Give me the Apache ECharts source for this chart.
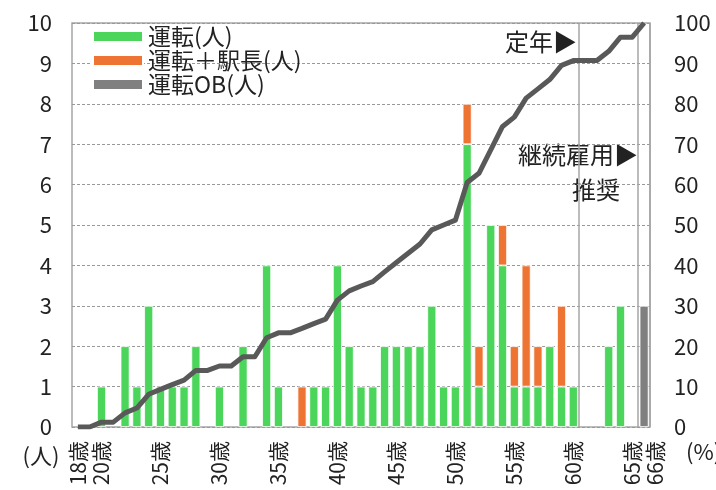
<!DOCTYPE html>
<html>
<head>
<meta charset="utf-8">
<script src="https://cdn.jsdelivr.net/npm/echarts@6/dist/echarts.min.js"></script>
<style>
  html, body { margin: 0; padding: 0; background: #fff; }
  #chart { width: 716px; height: 490px; }
</style>
</head>
<body>
<div id="chart"></div>
<script>
// 年齢（カテゴリ）
const ages = [
  '18歳','19歳','20歳','21歳','22歳','23歳','24歳','25歳','26歳','27歳',
  '28歳','29歳','30歳','31歳','32歳','33歳','34歳','35歳','36歳','37歳',
  '38歳','39歳','40歳','41歳','42歳','43歳','44歳','45歳','46歳','47歳',
  '48歳','49歳','50歳','51歳','52歳','53歳','54歳','55歳','56歳','57歳',
  '58歳','59歳','60歳','61歳','62歳','63歳','64歳','65歳','66歳'
];

// 運転(人)
const driver = [
  0, 0, 1, 0, 2, 1, 3, 1, 1, 1,
  2, 0, 1, 0, 2, 0, 4, 1, 0, 0,
  1, 1, 4, 2, 1, 1, 2, 2, 2, 2,
  3, 1, 1, 7, 1, 5, 4, 1, 1, 1,
  2, 1, 1, 0, 0, 2, 3, 0, 0
];

// 運転＋駅長(人)
const driverStation = [
  0, 0, 0, 0, 0, 0, 0, 0, 0, 0,
  0, 0, 0, 0, 0, 0, 0, 0, 0, 1,
  0, 0, 0, 0, 0, 0, 0, 0, 0, 0,
  0, 0, 0, 1, 1, 0, 1, 1, 3, 1,
  0, 2, 0, 0, 0, 0, 0, 0, 0
];

// 運転OB(人)
const driverOB = [
  0, 0, 0, 0, 0, 0, 0, 0, 0, 0,
  0, 0, 0, 0, 0, 0, 0, 0, 0, 0,
  0, 0, 0, 0, 0, 0, 0, 0, 0, 0,
  0, 0, 0, 0, 0, 0, 0, 0, 0, 0,
  0, 0, 0, 0, 0, 0, 0, 0, 3
];

// 累計(%)
const cumulative = [
  0, 0, 1.2, 1.2, 3.5, 4.7, 8.1, 9.3, 10.5, 11.6,
  14.0, 14.0, 15.1, 15.1, 17.4, 17.4, 22.1, 23.3, 23.3, 24.4,
  25.6, 26.7, 31.4, 33.7, 34.9, 36.0, 38.4, 40.7, 43.0, 45.3,
  48.8, 50.0, 51.2, 60.5, 62.8, 68.6, 74.4, 76.7, 81.4, 83.7,
  86.0, 89.5, 90.7, 90.7, 90.7, 93.0, 96.5, 96.5, 100
];

// 表示するラベルと縦線の位置
const labelIndex = [0, 2, 7, 12, 17, 22, 27, 32, 37, 42, 47, 48];
const lineIndex = [43, 48];

const FONT = '"Noto Sans CJK JP", "Noto Sans", sans-serif';
const TEXT = '#222';

// 0 は描かない
function noZero(arr) {
  return arr.map(v => v === 0 ? '-' : v);
}

const charts = echarts.init(document.getElementById('chart'));

let option = {
  animation: false,
  textStyle: { fontFamily: FONT },
  grid: {
    left: 72,
    right: 66,
    top: 23,
    bottom: 63,
    show: true,
    borderColor: '#a6a6a6',
    borderWidth: 1.5
  },
  legend: {
    data: ['運転(人)', '運転＋駅長(人)', '運転OB(人)'],
    orient: 'vertical',
    left: 92,
    top: 25,
    padding: 0,
    itemWidth: 50,
    itemHeight: 11,
    itemGap: 1,
    icon: 'rect',
    textStyle: { fontSize: 23, color: TEXT, fontFamily: FONT, lineHeight: 23 }
  },
  xAxis: {
    type: 'category',
    data: ages,
    boundaryGap: true,
    axisLine: { show: false },
    axisTick: { show: false },
    axisLabel: {
      rotate: 90,
      margin: 14,
      fontSize: 21,
      color: TEXT,
      fontFamily: FONT,
      interval: (i) => labelIndex.includes(i),
      formatter: (v, i) => i === 48 ? '{s|' + v + '}' : v,
      rich: {
        s: { fontSize: 21, color: TEXT, fontFamily: FONT, padding: [22, 0, 0, 0] }
      }
    },
    splitLine: {
      show: true,
      interval: (i) => lineIndex.includes(i),
      lineStyle: { color: '#a6a6a6', width: 1.5 }
    }
  },
  yAxis: [
    {
      type: 'value',
      min: 0,
      max: 10,
      interval: 1,
      axisLine: { show: false },
      axisTick: { show: false },
      axisLabel: { fontSize: 22, color: TEXT, margin: 20, fontFamily: FONT },
      splitLine: { lineStyle: { color: '#999', type: [3, 2], width: 1 } }
    },
    {
      type: 'value',
      min: 0,
      max: 100,
      interval: 10,
      axisLine: { show: false },
      axisTick: { show: false },
      axisLabel: { fontSize: 22, color: TEXT, margin: 24, fontFamily: FONT },
      splitLine: { show: false }
    }
  ],
  series: [
    {
      name: '運転(人)',
      type: 'bar',
      stack: 'p',
      data: noZero(driver),
      barWidth: 9,
      itemStyle: { color: '#4cd55b', borderColor: '#fff', borderWidth: 0.8 }
    },
    {
      name: '運転＋駅長(人)',
      type: 'bar',
      stack: 'p',
      data: noZero(driverStation),
      barWidth: 9,
      itemStyle: { color: '#ed7433', borderColor: '#fff', borderWidth: 0.8 }
    },
    {
      name: '運転OB(人)',
      type: 'bar',
      stack: 'p',
      data: noZero(driverOB),
      barWidth: 9,
      itemStyle: { color: '#808080', borderColor: '#fff', borderWidth: 0.8 }
    },
    {
      name: '累計(%)',
      type: 'line',
      yAxisIndex: 1,
      data: cumulative,
      showSymbol: false,
      symbol: 'none',
      z: 5,
      lineStyle: { color: '#595959', width: 5, join: 'round' }
    }
  ],
  graphic: [
    { type: 'text', x: 577, y: 42, style: { text: '定年▶', fontSize: 24, fontFamily: FONT, fill: TEXT, align: 'right', verticalAlign: 'middle' } },
    { type: 'text', x: 638, y: 155, style: { text: '継続雇用▶', fontSize: 24, fontFamily: FONT, fill: TEXT, align: 'right', verticalAlign: 'middle' } },
    { type: 'text', x: 620, y: 190, style: { text: '推奨', fontSize: 24, fontFamily: FONT, fill: TEXT, align: 'right', verticalAlign: 'middle' } },
    { type: 'text', x: 41, y: 456, style: { text: '(人)', fontSize: 22, fontFamily: FONT, fill: TEXT, align: 'center', verticalAlign: 'middle' } },
    { type: 'text', x: 686, y: 452, style: { text: '(%)', fontSize: 22, fontFamily: FONT, fill: TEXT, align: 'left', verticalAlign: 'middle' } }
  ]
};

charts.setOption(option);
</script>
</body>
</html>
